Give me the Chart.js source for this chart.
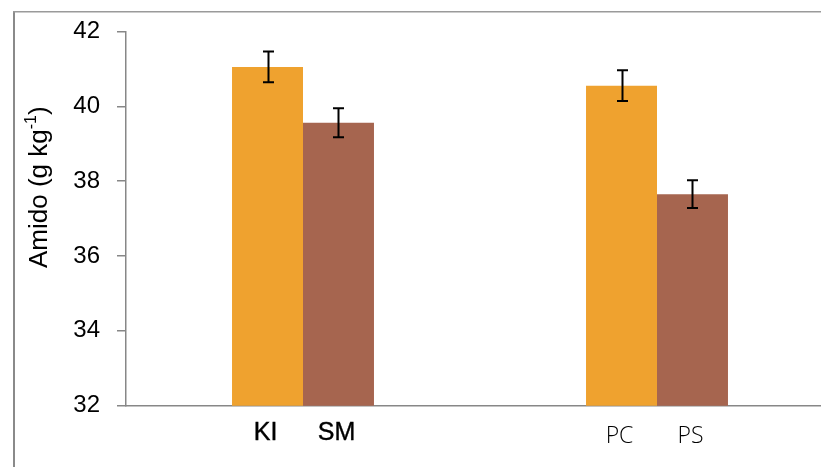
<!DOCTYPE html>
<html>
<head>
<meta charset="utf-8">
<script src="https://cdn.jsdelivr.net/npm/chart.js@4/dist/chart.umd.min.js"></script>
<style>
  html, body { margin: 0; padding: 0; background: #fff; }
  body { width: 821px; height: 467px; overflow: hidden; position: relative; }
  /* the plot area runs past the right edge of the page */
  #wrap { position: absolute; left: 0; top: 0; width: 840px; height: 467px; }
</style>
</head>
<body>
<div id="wrap"><canvas id="c"></canvas></div>
<script>
// Starch content (g kg-1) for two pairs of treatments
const groups = ['KI / SM', 'PC / PS'];
const firstNames = ['KI', 'PC'];
const secondNames = ['SM', 'PS'];
const firstValues = [41.05, 40.55];
const secondValues = [39.56, 37.65];
const firstErrors = [0.41, 0.41];
const secondErrors = [0.39, 0.37];
const yTicks = [32, 34, 36, 38, 40, 42];
const yTitle = 'Amido (g kg';
const yTitleSup = '-1';

const ORANGE = '#EFA22F';
const BROWN = '#A6654F';
const AXIS = '#878787';

// label fonts per group of bars
const groupLabelFont = [
  { font: '25px "Liberation Sans", Arial, sans-serif', baseline: 440, stroke: 0.4 },
  { font: '300 23px "Open Sans", "Noto Sans", sans-serif', baseline: 443, stroke: 0 }
];

const frame = {
  id: 'frame',
  beforeDraw(chart) {
    const ctx = chart.ctx;
    ctx.save();
    ctx.fillStyle = '#fff';
    ctx.fillRect(0, 0, chart.width, chart.height);
    ctx.fillStyle = '#8a8a8a';
    ctx.fillRect(13, 11, 2, chart.height - 11);
    ctx.fillStyle = '#9a9a9a';
    ctx.fillRect(13, 11, chart.width, 1.5);
    ctx.restore();
  }
};

const errorBars = {
  id: 'errorBars',
  afterDatasetsDraw(chart) {
    const ctx = chart.ctx;
    const y = chart.scales.y;
    const errs = [firstErrors, secondErrors];
    ctx.save();
    ctx.strokeStyle = '#000';
    ctx.lineWidth = 2;
    chart.data.datasets.forEach((ds, di) => {
      const meta = chart.getDatasetMeta(di);
      meta.data.forEach((bar, i) => {
        const v = ds.data[i], e = errs[di][i];
        const top = y.getPixelForValue(v + e);
        const bot = y.getPixelForValue(v - e);
        const x = Math.round(bar.x) + 0.5;
        ctx.beginPath();
        ctx.moveTo(x, top); ctx.lineTo(x, bot);
        ctx.moveTo(x - 5.5, top); ctx.lineTo(x + 5.5, top);
        ctx.moveTo(x - 5.5, bot); ctx.lineTo(x + 5.5, bot);
        ctx.stroke();
      });
    });
    ctx.restore();
  }
};

const barNames = {
  id: 'barNames',
  afterDraw(chart) {
    const ctx = chart.ctx;
    const names = [firstNames, secondNames];
    ctx.save();
    ctx.fillStyle = '#000';
    ctx.strokeStyle = '#000';
    ctx.textAlign = 'center';
    ctx.textBaseline = 'alphabetic';
    chart.data.datasets.forEach((ds, di) => {
      const meta = chart.getDatasetMeta(di);
      meta.data.forEach((bar, i) => {
        const st = groupLabelFont[i];
        ctx.font = st.font;
        const x = bar.x - 2;
        ctx.fillText(names[di][i], x, st.baseline);
        if (st.stroke) {
          ctx.lineWidth = st.stroke;
          ctx.strokeText(names[di][i], x, st.baseline);
        }
      });
    });
    ctx.restore();
  }
};

const axisTitle = {
  id: 'axisTitle',
  afterDraw(chart) {
    const ctx = chart.ctx;
    ctx.save();
    ctx.translate(47, 268);
    ctx.rotate(-Math.PI / 2);
    ctx.fillStyle = '#000';
    ctx.textAlign = 'left';
    ctx.textBaseline = 'alphabetic';
    ctx.font = '26px "Liberation Sans", Arial, sans-serif';
    ctx.fillText(yTitle, 0, 0);
    let w = ctx.measureText(yTitle).width;
    ctx.font = '16px "Liberation Sans", Arial, sans-serif';
    ctx.fillText(yTitleSup, w, -11);
    w += ctx.measureText(yTitleSup).width;
    ctx.font = '26px "Liberation Sans", Arial, sans-serif';
    ctx.fillText(')', w, 0);
    ctx.restore();
  }
};

new Chart(document.getElementById('c'), {
  type: 'bar',
  data: {
    labels: groups,
    datasets: [
      { data: firstValues, backgroundColor: ORANGE, barPercentage: 1, categoryPercentage: 0.401 },
      { data: secondValues, backgroundColor: BROWN, barPercentage: 1, categoryPercentage: 0.401 }
    ]
  },
  options: {
    responsive: true,
    maintainAspectRatio: false,
    animation: false,
    events: [],
    layout: { padding: { top: 29.5, right: 6, bottom: 0, left: 0 } },
    plugins: { legend: { display: false }, tooltip: { enabled: false }, title: { display: false } },
    scales: {
      x: {
        grid: { display: false },
        border: { display: true, color: AXIS, width: 1.5 },
        ticks: { display: false },
        afterFit(s) { s.height = 467 - 405.7; }
      },
      y: {
        min: 32, max: 42,
        afterBuildTicks(s) { s.ticks = yTicks.map(v => ({ value: v })); },
        grid: { drawOnChartArea: false, drawTicks: true, tickLength: 9, color: AXIS, lineWidth: 1.5 },
        border: { display: true, color: AXIS, width: 1.5 },
        ticks: {
          color: '#000',
          padding: 17,
          font: { family: '"Liberation Sans", Arial, sans-serif', size: 24 }
        },
        afterFit(s) { s.width = 126; }
      }
    }
  },
  plugins: [frame, errorBars, barNames, axisTitle]
});
</script>
</body>
</html>
